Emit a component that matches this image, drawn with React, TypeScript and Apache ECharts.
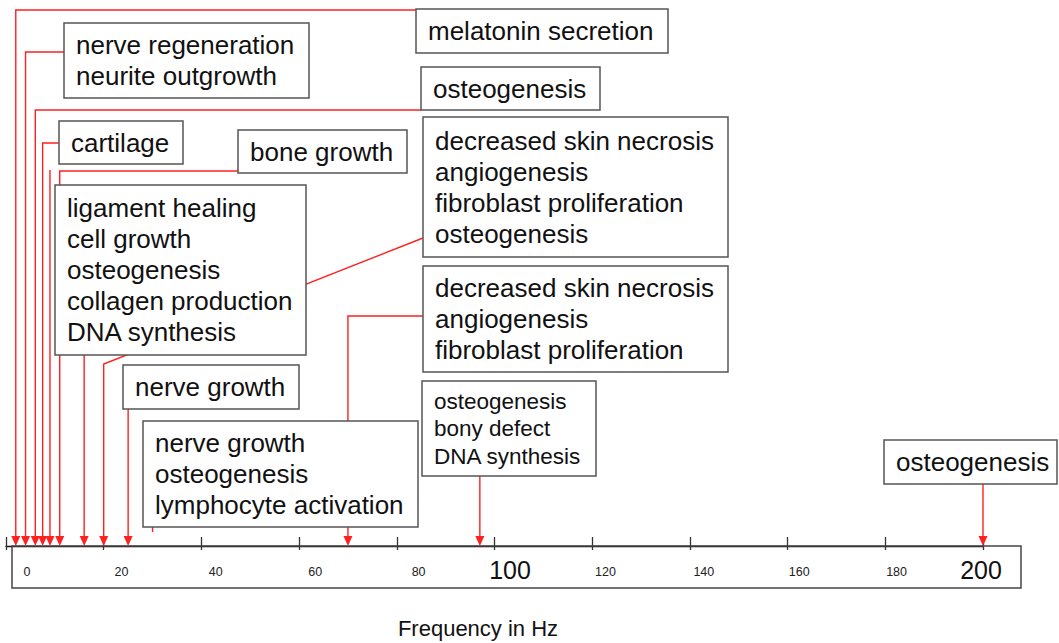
import React, { useEffect, useRef } from "react";
import * as echarts from "echarts";

// ---- data ----
const tickValues = [0, 20, 40, 60, 80, 100, 120, 140, 160, 180, 200];
const bigTickLabels = [100, 200];
const axisTitle = "Frequency in Hz";

const boxTexts: string[][] = [
  ["melatonin secretion"],
  ["nerve regeneration", "neurite outgrowth"],
  ["osteogenesis"],
  ["cartilage"],
  ["bone growth"],
  ["ligament healing", "cell growth", "osteogenesis", "collagen production", "DNA synthesis"],
  ["decreased skin necrosis", "angiogenesis", "fibroblast proliferation", "osteogenesis"],
  ["nerve growth"],
  ["nerve growth", "osteogenesis", "lymphocyte activation"],
  ["decreased skin necrosis", "angiogenesis", "fibroblast proliferation"],
  ["osteogenesis", "bony defect", "DNA synthesis"],
  ["osteogenesis"],
];

// frequency (Hz) of each arrow, and which box it belongs to
const arrowFreqs = [2, 4, 6, 7.5, 9, 11, 16, 20, 25, 30, 70, 97, 200];
const arrowBox = [0, 1, 2, 3, 4, 4, 5, 6, 7, 8, 9, 10, 11];

// ---- layout (pixels) ----
// box: [x, y, w, h, fontSize, lineHeight]
const boxLayout: number[][] = [
  [416, 9, 252, 44, 26, 31],
  [64, 23, 245, 75, 26, 31],
  [421, 67, 179, 43, 26, 31],
  [59, 121, 124, 43, 26, 31],
  [238, 130, 169, 43, 26, 31],
  [55, 185, 251, 170, 26, 31],
  [423, 117, 305, 140, 26, 31],
  [123, 365, 176, 44, 26, 31],
  [143, 421, 275, 106, 26, 31],
  [423, 266, 305, 106, 26, 31],
  [422, 381, 174, 95, 22.5, 27.5],
  [884, 440, 173, 44, 26, 31],
];
// horizontal nudge (px) of each tick label, as placed in the drawing
const labelShift = [0, -1, -2, 2, 10, 6, 6, 9, 9, 11, 0];
// connector route per arrow: [fromX, fromY] (or null), turnY, endY (null = axis), arrow head
const routeLayout: { from: number[] | null; turnY: number; endY: number | null; head: boolean }[] = [
  { from: [416, 10], turnY: 10, endY: null, head: true },
  { from: [64, 52], turnY: 52, endY: null, head: true },
  { from: [421, 110], turnY: 110, endY: null, head: true },
  { from: [59, 143], turnY: 143, endY: null, head: true },
  { from: null, turnY: 170, endY: null, head: true },
  { from: [238, 171], turnY: 171, endY: null, head: true },
  { from: null, turnY: 355, endY: null, head: true },
  { from: [423, 238], turnY: 364, endY: null, head: true },
  { from: null, turnY: 409, endY: null, head: true },
  { from: null, turnY: 527, endY: 532, head: false },
  { from: [423, 316], turnY: 316, endY: null, head: true },
  { from: null, turnY: 476, endY: null, head: true },
  { from: null, turnY: 484, endY: null, head: true },
];

const FONT = '"Liberation Sans", Arial, Helvetica, sans-serif';
const RED = "#ff2020";
const W = 1059;
const H = 643;
const AXIS_Y = 546;

export default function App() {
  const ref = useRef<HTMLDivElement>(null);
  useEffect(() => {
    if (!ref.current) return;
    const chart = echarts.init(ref.current, null, { renderer: "svg" });

    const graphics: any[] = [];
    graphics.push({
      type: "rect",
      z: 1,
      shape: { x: 12, y: AXIS_Y, width: 1009, height: 42 },
      style: { fill: "none", stroke: "#444", lineWidth: 1.5 },
    });
    boxTexts.forEach((lines, i) => {
      const [x, y, w, h, fs, lh] = boxLayout[i];
      graphics.push({
        type: "rect",
        z: 100,
        shape: { x, y, width: w, height: h },
        style: { fill: "#fff", stroke: "#555", lineWidth: 1.5 },
      });
      graphics.push({
        type: "text",
        z: 101,
        x: x + 12,
        y: y + h / 2,
        style: {
          text: lines.join("\n"),
          font: `${fs}px ${FONT}`,
          fontSize: fs,
          fontFamily: FONT,
          lineHeight: lh,
          fill: "#111",
          align: "left",
          textAlign: "left",
          verticalAlign: "middle",
          textVerticalAlign: "middle",
        },
      });
    });
    graphics.push({
      type: "text",
      z: 101,
      x: 478,
      y: 628,
      style: {
        text: axisTitle,
        font: `22px ${FONT}`,
        fontSize: 22,
        fontFamily: FONT,
        fill: "#111",
        align: "center",
        textAlign: "center",
        verticalAlign: "middle",
        textVerticalAlign: "middle",
      },
    });

    const rich: any = {};
    tickValues.forEach((v, i) => {
      const big = bigTickLabels.includes(v);
      const s = labelShift[i];
      rich["l" + i] = {
        fontSize: big ? 25 : 12.5,
        fontFamily: FONT,
        color: big ? "#111" : "#222",
        padding: s >= 0 ? [big ? 0 : 3, 0, 0, 2 * s] : [big ? 0 : 3, -2 * s, 0, 0],
      };
    });

    const option: any = {
      animation: false,
      backgroundColor: "#fff",
      grid: [
        { left: 6, width: 977, top: 0, height: AXIS_Y },
        { left: 27, width: 954, top: 0, height: AXIS_Y },
      ],
      xAxis: [
        {
          type: "value",
          gridIndex: 0,
          position: "bottom",
          min: 0,
          max: 200,
          interval: 20,
          axisLine: { show: true, lineStyle: { color: "#111", width: 1.3 } },
          axisTick: { show: true, inside: true, length: 9, lineStyle: { color: "#333", width: 1.3 } },
          axisLabel: { show: false },
          splitLine: { show: false },
        },
        {
          type: "value",
          gridIndex: 1,
          position: "bottom",
          min: 0,
          max: 200,
          interval: 20,
          axisLine: { show: false },
          axisTick: { show: false },
          splitLine: { show: false },
          axisLabel: {
            show: true,
            margin: 24,
            verticalAlign: "middle",
            showMinLabel: true,
            showMaxLabel: true,
            formatter: (v: number) => {
              const i = tickValues.indexOf(v);
              return i < 0 ? "" : `{l${i}|${v}}`;
            },
            rich,
          },
        },
        {
          type: "value",
          gridIndex: 0,
          position: "bottom",
          offset: 0,
          min: 0,
          max: 200,
          interval: 20,
          axisLine: { show: false },
          axisTick: { show: true, inside: false, length: 4, lineStyle: { color: "#333", width: 1.3 } },
          axisLabel: { show: false },
          splitLine: { show: false },
        },
      ],
      yAxis: [
        { type: "value", gridIndex: 0, min: 0, max: 1, show: false },
        { type: "value", gridIndex: 1, min: 0, max: 1, show: false },
      ],
      series: [
        {
          type: "custom",
          xAxisIndex: 0,
          yAxisIndex: 0,
          clip: false,
          z: 5,
          data: arrowFreqs.map((f, i) => [f, 0, i, arrowBox[i]]),
          encode: { x: 0, y: 1 },
          renderItem: (params: any, api: any) => {
            const f = api.value(0);
            const i = api.value(2);
            const pt = api.coord([f, 0]);
            const ax = pt[0];
            const ay = pt[1];
            const r = routeLayout[i];
            const endY = r.endY == null ? ay : r.endY;
            const pts: number[][] = [];
            if (r.from) pts.push(r.from);
            pts.push([ax, r.turnY]);
            pts.push([ax, r.head ? endY - 6 : endY]);
            const children: any[] = [
              {
                type: "polyline",
                shape: { points: pts },
                style: { stroke: RED, lineWidth: 1.4, fill: "none" },
              },
            ];
            if (r.head) {
              children.push({
                type: "polygon",
                shape: {
                  points: [
                    [ax - 4.5, endY - 10],
                    [ax + 4.5, endY - 10],
                    [ax, endY],
                  ],
                },
                style: { fill: RED, stroke: "none" },
              });
            }
            return { type: "group", children };
          },
        },
      ],
      graphic: { elements: graphics },
    };
    chart.setOption(option);
    return () => chart.dispose();
  }, []);
  return (
    <div
      ref={ref}
      style={{ position: "absolute", left: 0, top: 0, width: W, height: H, background: "#fff" }}
    />
  );
}
